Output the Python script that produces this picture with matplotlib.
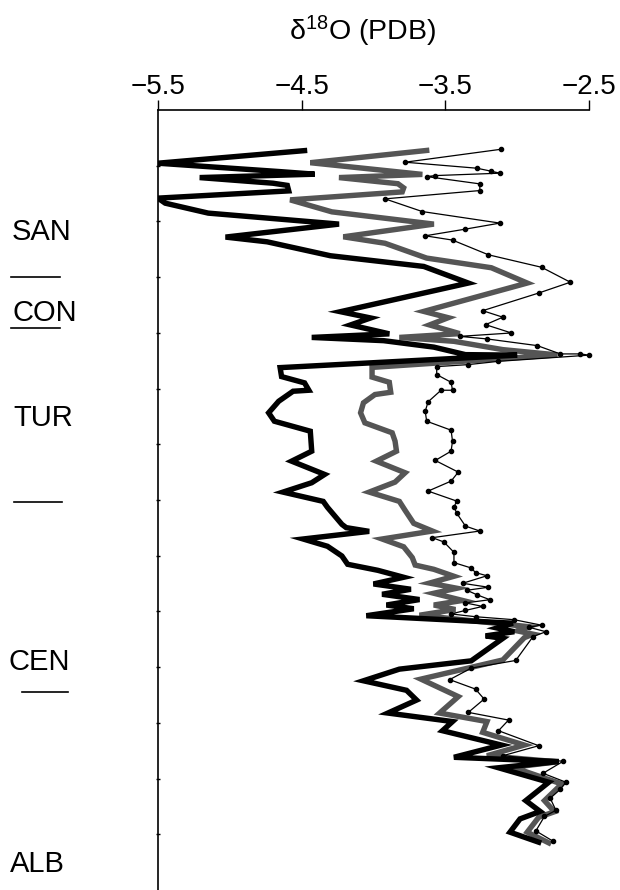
import matplotlib
matplotlib.use("Agg")
import matplotlib.pyplot as plt
import matplotlib.transforms as mtransforms

plt.rcParams['font.family'] = ['Liberation Sans', 'DejaVu Sans']
plt.rcParams['mathtext.default'] = 'regular'

# depth in arbitrary section units (0 = top), d18O in per mil PDB
thin_d18o = [-3.11, -3.78, -3.28, -3.18, -3.12, -3.57, -3.63, -3.26, -3.26, -3.92,
             -3.66, -3.12, -3.36, -3.64, -3.45, -3.20, -2.83, -2.63, -2.85, -3.24,
             -3.10, -3.22, -3.04, -3.40, -3.21, -2.86, -2.70, -2.56, -2.50, -3.13,
             -3.34, -3.56, -3.56, -3.46, -3.45, -3.53, -3.62, -3.64, -3.63, -3.46,
             -3.45, -3.46, -3.57, -3.41, -3.46, -3.62, -3.42, -3.44, -3.42, -3.36,
             -3.26, -3.59, -3.51, -3.44, -3.44, -3.32, -3.29, -3.21, -3.38, -3.20,
             -3.35, -3.28, -3.19, -3.36, -3.24, -3.36, -3.46, -3.29, -3.02, -2.83,
             -2.92, -2.80, -2.89, -3.01, -3.32, -3.47, -3.29, -3.23, -3.34, -3.06,
             -3.13, -2.85, -3.10, -2.68, -2.82, -2.66, -2.70, -2.77, -2.73, -2.81,
             -2.87, -2.75]
thin_depth = [7.04, 9.37, 10.45, 10.99, 11.34, 11.77, 11.95, 13.26, 14.46, 15.95,
              18.23, 20.30, 21.38, 22.58, 23.35, 25.99, 28.23, 30.91, 32.85, 36.02,
              37.19, 38.53, 40.02, 40.63, 41.09, 42.29, 43.78, 43.78, 44.00, 45.11,
              45.70, 46.06, 47.49, 48.87, 50.30, 50.30, 52.38, 54.07, 55.86, 57.47,
              59.44, 61.24, 62.90, 65.00, 66.61, 68.40, 70.20, 71.24, 72.40, 74.68,
              75.57, 76.76, 77.54, 79.39, 81.24, 82.20, 83.03, 83.60, 84.95, 85.66,
              86.20, 87.01, 87.90, 88.47, 89.10, 89.82, 90.45, 90.95, 91.49, 92.47,
              92.83, 93.64, 94.53, 98.80, 100.18, 102.24, 103.94, 105.73, 108.12, 109.50,
              111.41, 114.10, 115.90, 116.90, 119.05, 120.66, 121.94, 123.53, 125.70, 126.79,
              129.39, 131.24]

black_d18o = [-4.48, -5.50, -4.65, -4.41, -5.21, -4.70, -4.60, -4.59, -5.50, -5.45,
              -5.15, -4.24, -5.03, -4.74, -4.30, -3.65, -3.34, -4.23, -4.02, -4.16,
              -3.89, -4.43, -3.93, -3.58, -3.36, -3.00, -4.65, -4.64, -4.48, -4.45,
              -4.56, -4.66, -4.73, -4.69, -4.44, -4.43, -4.57, -4.34, -4.43, -4.63,
              -4.35, -4.32, -4.22, -4.19, -4.03, -4.49, -4.32, -4.22, -4.18, -3.97,
              -3.79, -4.00, -3.74, -3.94, -3.68, -3.91, -3.72, -4.05, -3.03, -3.14,
              -3.02, -3.22, -3.10, -3.32, -3.82, -4.07, -3.77, -3.70, -3.90, -3.45,
              -3.52, -3.11, -3.44, -2.71, -3.13, -2.78, -2.94, -2.84, -2.98, -3.05,
              -2.85]
black_depth = [7.29, 9.55, 11.06, 11.52, 12.13, 13.14, 13.53, 14.52, 15.82, 16.72,
               18.51, 20.48, 22.81, 23.66, 26.16, 28.08, 31.06, 36.20, 37.33, 38.58,
               40.18, 40.82, 41.40, 42.56, 43.91, 44.00, 46.24, 47.85, 48.98, 50.30,
               50.48, 52.28, 54.35, 55.86, 57.65, 61.24, 63.03, 65.41, 66.90, 68.58,
               70.25, 71.33, 74.37, 74.96, 75.63, 77.00, 78.31, 80.05, 81.54, 82.62,
               83.87, 85.07, 86.02, 86.92, 87.87, 88.85, 89.52, 90.77, 92.11, 92.97,
               93.64, 94.39, 94.84, 98.87, 100.36, 102.45, 104.16, 105.91, 108.24, 109.77,
               111.41, 113.98, 116.18, 116.94, 118.06, 120.66, 123.96, 125.90, 127.24, 129.62,
               131.42]

gray_d18o = [-3.63, -4.44, -3.66, -4.24, -3.83, -3.79, -3.80, -4.58, -4.29, -3.58,
             -4.21, -3.92, -3.63, -3.18, -2.93, -3.65, -3.48, -3.61, -3.40, -3.82,
             -3.44, -3.10, -2.72, -4.01, -4.01, -3.89, -3.88, -3.99, -4.07, -4.09,
             -4.06, -3.87, -3.85, -3.84, -3.98, -3.78, -3.85, -4.03, -3.82, -3.78,
             -3.72, -3.59, -3.94, -3.79, -3.73, -3.71, -3.58, -3.44, -3.61, -3.42,
             -3.58, -3.38, -3.58, -3.43, -3.68, -2.92, -3.00, -2.89, -2.95, -3.10,
             -3.67, -3.41, -3.54, -3.21, -3.24, -2.95, -3.21, -2.72, -3.03, -2.69,
             -2.81, -2.74, -2.85, -2.93, -2.78]
gray_depth = [7.26, 9.46, 11.56, 12.13, 13.23, 13.98, 14.70, 16.13, 18.28, 20.48,
              22.76, 23.92, 26.58, 28.31, 31.06, 36.15, 37.28, 38.58, 40.14, 40.82,
              41.52, 43.01, 43.96, 46.20, 47.94, 48.87, 50.66, 51.07, 52.56, 54.35,
              56.15, 57.94, 59.44, 61.24, 63.03, 65.11, 66.79, 68.58, 70.25, 71.86,
              74.19, 75.57, 77.00, 78.40, 80.34, 81.68, 82.44, 83.69, 84.91, 85.84,
              86.74, 88.03, 88.85, 89.66, 90.68, 92.74, 93.49, 94.08, 94.71, 98.71,
              102.15, 105.29, 108.24, 109.77, 111.70, 113.98, 115.90, 116.99, 117.97, 120.97,
              123.96, 125.95, 126.94, 129.62, 131.54]

stage_names = ["SAN", "CON", "TUR", "CEN", "ALB"]
stage_label_depth = [21.9, 36.4, 55.2, 99.1, 135.3]
stage_boundaries = [29.9, 39.2, 70.4, 104.5]

x_ticks = [-5.5, -4.5, -3.5, -2.5]
depth_ticks = list(range(10, 140, 10))

fig = plt.figure(figsize=(6.2, 8.9), dpi=100)
ax = fig.add_axes([158 / 620, 0.0, 431 / 620, 780 / 890])

ax.plot(gray_d18o, gray_depth, color='#555555', lw=3.9, solid_joinstyle='miter', zorder=2)
ax.plot(black_d18o, black_depth, color='black', lw=3.9, solid_joinstyle='miter', zorder=3)
ax.plot(thin_d18o, thin_depth, color='black', lw=0.9, marker='o', markersize=3,
        zorder=4, clip_on=False)

ax.set_xlim(-5.5, -2.5)
ax.set_ylim(140, 0)

ax.xaxis.set_ticks_position('top')
ax.set_xticks(x_ticks)
ax.set_xticklabels(['\u22125.5', '\u22124.5', '\u22123.5', '\u22122.5'])
ax.tick_params(axis='x', direction='out', length=7, width=1, labelsize=20, pad=0)
ax.set_yticks(depth_ticks)
ax.set_yticklabels([])
ax.tick_params(axis='y', direction='inout', length=3, width=1)

for s in ['right', 'bottom']:
    ax.spines[s].set_visible(False)
ax.spines['top'].set_linewidth(1.2)
ax.spines['left'].set_linewidth(1.2)

fig.text(362 / 620, 1 - 31 / 890, r'δ$^{18}$O (PDB)', ha='center', va='center', fontsize=20.5)

trans = mtransforms.blended_transform_factory(fig.transFigure, ax.transData)
label_x = [12, 12, 13, 8, 10]
for name, d, lx in zip(stage_names, stage_label_depth, label_x):
    ax.text(lx / 620, d, name, transform=trans, ha='left', va='center', fontsize=21,
            clip_on=False)
line_x = [(11, 60), (11, 60), (14, 62), (22, 68)]
for d, (x0, x1) in zip(stage_boundaries, line_x):
    ax.plot([x0 / 620, x1 / 620], [d, d], transform=trans, color='black', lw=1.2,
            clip_on=False)

fig.savefig("out.png", dpi=100)
